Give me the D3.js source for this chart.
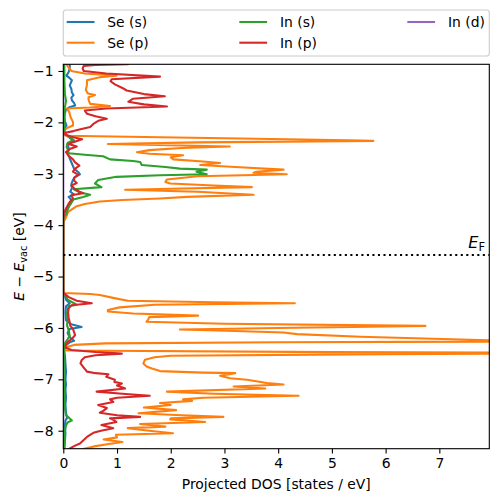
<!DOCTYPE html>
<html><head><meta charset="utf-8">
<script src="https://cdn.jsdelivr.net/npm/d3@7"></script>
<style>body{margin:0;background:#fff;} svg{display:block;font-family:"DejaVu Sans",sans-serif;}</style>
</head><body><svg id="chart" width="498" height="502"></svg>
<script>
// ---- data: [energy (eV), projected DOS (states/eV)] ----
const seriesNames = ["Se (s)", "Se (p)", "In (s)", "In (p)", "In (d)"];
const seriesColors = ["#1f77b4", "#ff7f0e", "#2ca02c", "#d62728", "#9467bd"];

const seS = [[-0.85,0.12],[-0.95,0.12],[-1.02,0.10],[-1.09,0.06],[-1.14,0.12],[-1.18,0.16],[-1.23,0.14],[-1.28,0.12],[-1.35,0.15],[-1.42,0.16],[-1.47,0.19],[-1.52,0.15],[-1.57,0.16],[-1.62,0.20],[-1.67,0.22],[-1.71,0.10],[-1.75,0.05],[-1.82,0.03],[-1.90,0.02],[-1.98,0.03],[-2.06,0.06],[-2.12,0.02],[-2.22,0.02],[-2.30,0.12],[-2.36,0.20],[-2.42,0.08],[-2.50,0.10],[-2.60,0.08],[-2.70,0.12],[-2.80,0.16],[-2.90,0.20],[-2.97,0.28],[-3.01,0.31],[-3.06,0.22],[-3.12,0.18],[-3.20,0.15],[-3.28,0.16],[-3.35,0.13],[-3.40,0.20],[-3.45,0.10],[-3.52,0.16],[-3.58,0.14],[-3.65,0.07],[-3.72,0.04],[-3.80,0.01],[-3.90,0],[-5.30,0],[-5.33,0.02],[-5.45,0.05],[-5.52,0.12],[-5.58,0.05],[-5.70,0.04],[-5.85,0.05],[-5.93,0.15],[-5.98,0.34],[-6.02,0.12],[-6.10,0.08],[-6.18,0.12],[-6.25,0.20],[-6.28,0.12],[-6.35,0.03],[-6.45,0.02],[-6.55,0.03],[-6.70,0.04],[-6.85,0.05],[-7.00,0.04],[-7.10,0.05],[-7.20,0.04],[-7.35,0.05],[-7.50,0.04],[-7.65,0.05],[-7.75,0.07],[-7.80,0.04],[-7.90,0.03],[-8.05,0.04],[-8.20,0.03],[-8.40,0.02]];

const seP = [[-0.85,0.05],[-0.87,0.06],[-0.92,0.09],[-1.00,0.15],[-1.05,0.40],[-1.09,0.99],[-1.12,0.68],[-1.18,0.44],[-1.27,0.44],[-1.37,0.42],[-1.44,0.46],[-1.47,0.59],[-1.51,0.47],[-1.56,0.47],[-1.64,0.50],[-1.68,0.87],[-1.71,0.50],[-1.73,0.07],[-1.80,0.11],[-1.91,0.14],[-1.99,0.18],[-2.06,0.18],[-2.11,0.07],[-2.15,0.03],[-2.21,0.01],[-2.26,0.05],[-2.29,1.8],[-2.32,3.6],[-2.35,5.3],[-2.36,5.77],[-2.39,2.5],[-2.42,0.83],[-2.45,2.2],[-2.47,3.10],[-2.50,2.2],[-2.54,1.6],[-2.58,1.37],[-2.61,1.6],[-2.64,2.23],[-2.68,2.0],[-2.72,2.05],[-2.76,2.6],[-2.79,2.92],[-2.83,2.55],[-2.87,3.2],[-2.92,4.10],[-2.96,3.6],[-2.98,3.54],[-3.01,4.16],[-3.05,2.5],[-3.11,1.93],[-3.16,1.9],[-3.19,1.99],[-3.23,2.8],[-3.26,3.51],[-3.29,2.0],[-3.31,1.15],[-3.35,2.5],[-3.41,3.54],[-3.45,2.3],[-3.48,1.80],[-3.51,1.1],[-3.54,0.68],[-3.59,0.40],[-3.63,0.25],[-3.74,0.09],[-3.85,0.05],[-3.95,0],[-5.30,0],[-5.32,0.02],[-5.34,0.5],[-5.36,0.68],[-5.42,0.95],[-5.47,1.2],[-5.50,2.8],[-5.52,4.31],[-5.55,1.7],[-5.60,1.05],[-5.65,0.83],[-5.68,0.83],[-5.72,1.3],[-5.76,2.51],[-5.79,1.6],[-5.84,1.58],[-5.88,1.55],[-5.92,3.0],[-5.96,6.74],[-6.00,4.0],[-6.03,2.17],[-6.06,3.2],[-6.09,4.1],[-6.12,4.35],[-6.17,5.53],[-6.24,7.91],[-6.26,9.5],[-6.28,4.0],[-6.30,0.78],[-6.33,0.2],[-6.38,0.03],[-6.44,0.05],[-6.47,5.0],[-6.49,11.0],[-6.51,6.0],[-6.54,2.0],[-6.57,1.7],[-6.62,1.52],[-6.69,1.49],[-6.75,1.55],[-6.79,1.65],[-6.84,1.80],[-6.87,2.6],[-6.88,3.20],[-6.93,2.92],[-6.98,3.1],[-7.01,3.42],[-7.07,3.79],[-7.10,4.10],[-7.14,3.17],[-7.18,3.76],[-7.24,1.93],[-7.28,2.8],[-7.32,4.38],[-7.36,2.6],[-7.39,2.23],[-7.42,2.4],[-7.46,1.80],[-7.50,2.0],[-7.55,1.5],[-7.60,2.1],[-7.66,1.40],[-7.70,2.2],[-7.73,2.98],[-7.76,2.0],[-7.78,1.99],[-7.80,2.3],[-7.83,2.64],[-7.87,1.43],[-7.92,1.9],[-7.95,1.2],[-8.00,1.6],[-8.05,2.04],[-8.08,0.98],[-8.13,1.0],[-8.17,0.75],[-8.22,1.1],[-8.26,0.85],[-8.30,0.6],[-8.36,0.35],[-8.40,0.3]];

const inS = [[-0.85,0.02],[-1.20,0.02],[-1.45,0.03],[-1.58,0.05],[-1.65,0.04],[-1.75,0.02],[-2.10,0.02],[-2.20,0.02],[-2.28,0.10],[-2.34,0.19],[-2.40,0.08],[-2.48,0.06],[-2.54,0.09],[-2.60,0.10],[-2.63,0.4],[-2.66,0.74],[-2.72,0.87],[-2.75,1.3],[-2.77,1.43],[-2.83,1.46],[-2.87,1.9],[-2.90,2.17],[-2.92,2.67],[-2.96,2.48],[-3.01,2.67],[-3.03,1.8],[-3.06,0.99],[-3.12,0.65],[-3.19,0.59],[-3.26,0.71],[-3.30,0.19],[-3.36,0.30],[-3.41,0.50],[-3.45,0.37],[-3.50,0.19],[-3.61,0.12],[-3.70,0.08],[-3.78,0.06],[-3.85,0.01],[-3.95,0],[-5.30,0],[-5.33,0.02],[-5.45,0.08],[-5.52,0.20],[-5.55,0.25],[-5.58,0.10],[-5.70,0.07],[-5.85,0.08],[-5.95,0.07],[-6.05,0.10],[-6.15,0.12],[-6.22,0.08],[-6.30,0.03],[-6.45,0.01],[-6.60,0.01],[-7.00,0.01],[-7.50,0.02],[-7.70,0.05],[-7.76,0.12],[-7.80,0.16],[-7.84,0.08],[-7.90,0.05],[-8.00,0.03],[-8.20,0.02],[-8.40,0.01]];

const inP = [[-0.84,1.0],[-0.87,1.2],[-0.885,0.6],[-0.90,0.38],[-0.95,0.36],[-1.00,0.38],[-1.05,0.8],[-1.11,1.80],[-1.16,0.90],[-1.20,0.88],[-1.26,0.96],[-1.33,1.10],[-1.38,1.18],[-1.45,1.5],[-1.49,1.89],[-1.54,1.3],[-1.60,1.21],[-1.65,1.5],[-1.69,1.93],[-1.73,0.8],[-1.77,0.40],[-1.83,0.44],[-1.88,0.6],[-1.93,0.81],[-1.97,0.65],[-2.03,0.56],[-2.09,0.50],[-2.14,0.30],[-2.17,0.19],[-2.20,0.03],[-2.23,0.02],[-2.28,0.15],[-2.33,0.35],[-2.38,0.20],[-2.42,0.10],[-2.47,0.25],[-2.52,0.12],[-2.58,0.05],[-2.65,0.10],[-2.72,0.18],[-2.78,0.22],[-2.84,0.30],[-2.90,0.22],[-2.96,0.18],[-3.02,0.28],[-3.08,0.20],[-3.13,0.20],[-3.18,0.25],[-3.23,0.15],[-3.30,0.22],[-3.35,0.30],[-3.38,0.37],[-3.42,0.15],[-3.48,0.18],[-3.55,0.12],[-3.62,0.08],[-3.70,0.04],[-3.78,0.01],[-3.90,0],[-5.30,0],[-5.33,0.02],[-5.40,0.10],[-5.47,0.25],[-5.52,0.53],[-5.56,0.15],[-5.62,0.10],[-5.70,0.09],[-5.80,0.10],[-5.90,0.12],[-5.96,0.13],[-6.02,0.18],[-6.08,0.20],[-6.14,0.22],[-6.20,0.17],[-6.26,0.10],[-6.32,0.05],[-6.38,0.04],[-6.43,0.15],[-6.47,0.6],[-6.50,1.09],[-6.53,0.6],[-6.57,0.40],[-6.63,0.34],[-6.69,0.32],[-6.76,0.37],[-6.82,0.42],[-6.85,0.44],[-6.88,0.60],[-6.90,0.84],[-6.95,0.80],[-7.01,0.96],[-7.05,0.95],[-7.08,1.09],[-7.12,1.0],[-7.18,1.15],[-7.22,0.8],[-7.24,0.62],[-7.28,1.1],[-7.32,1.61],[-7.36,1.0],[-7.39,0.87],[-7.44,0.93],[-7.50,0.65],[-7.56,0.81],[-7.61,0.75],[-7.65,0.68],[-7.70,1.0],[-7.73,1.43],[-7.76,0.87],[-7.80,0.95],[-7.83,0.99],[-7.89,0.71],[-7.95,0.93],[-8.00,0.70],[-8.04,0.56],[-8.12,0.44],[-8.18,0.38],[-8.25,0.31],[-8.30,0.20],[-8.36,0.10],[-8.40,0.08]];

const inD = [[-0.85,0],[-8.40,0]];

const xTicks = [0, 1, 2, 3, 4, 5, 6, 7];
const yTicks = [-1, -2, -3, -4, -5, -6, -7, -8];
const fermiLevel = -4.58;
const xLimits = [0, 7.93];
const yLimits = [-8.35, -0.87];

// ---- layout ----
const svg = d3.select("#chart");
const L = 63.3, R = 489.3, T = 64.3, B = 448.7;
const x = d3.scaleLinear().domain(xLimits).range([L, R]);
const y = d3.scaleLinear().domain(yLimits).range([B, T]);
const FS = 13.9;

svg.append("defs").append("clipPath").attr("id", "clip")
  .append("rect").attr("x", L).attr("y", T).attr("width", R - L).attr("height", B - T);

const plot = svg.append("g").attr("clip-path", "url(#clip)");
const line = d3.line().x(d => x(d[1])).y(d => y(d[0]));
const allSeries = [seS, seP, inS, inP, inD];
const drawOrder = [4, 0, 1, 2, 3];
drawOrder.forEach(i => {
  plot.append("path").datum(allSeries[i])
    .attr("d", line).attr("fill", "none")
    .attr("stroke", seriesColors[i]).attr("stroke-width", 2.08)
    .attr("stroke-linejoin", "round");
});

// Fermi level
plot.append("line").attr("x1", L).attr("x2", R).attr("y1", y(fermiLevel)).attr("y2", y(fermiLevel))
  .attr("stroke", "#000").attr("stroke-width", 2.08).attr("stroke-dasharray", "2.08,3.44");

const ef = svg.append("text").attr("x", 485).attr("y", y(fermiLevel) - 6.5)
  .attr("text-anchor", "end").attr("font-size", 16).attr("fill", "#000");
ef.append("tspan").attr("font-style", "italic").text("E");
ef.append("tspan").attr("font-size", 11.5).attr("dy", 3).text("F");

// axes
const xAxis = svg.append("g").attr("transform", `translate(0,${B})`)
  .call(d3.axisBottom(x).tickValues(xTicks).tickFormat(d3.format("d")).tickSize(4.86).tickPadding(4.86));
const yAxis = svg.append("g").attr("transform", `translate(${L},0)`)
  .call(d3.axisLeft(y).tickValues(yTicks).tickFormat(d3.format("d")).tickSize(4.86).tickPadding(4.86));
[xAxis, yAxis].forEach(a => {
  a.select(".domain").remove();
  a.selectAll(".tick line").attr("stroke", "#000").attr("stroke-width", 1.1);
  a.selectAll(".tick text").attr("font-size", FS).attr("fill", "#000").attr("font-family", "DejaVu Sans");
});

svg.append("rect").attr("x", L).attr("y", T).attr("width", R - L).attr("height", B - T)
  .attr("fill", "none").attr("stroke", "#000").attr("stroke-width", 1.1);

svg.append("text").attr("x", (L + R) / 2).attr("y", 488.5).attr("text-anchor", "middle")
  .attr("font-size", FS).attr("fill", "#000").text("Projected DOS [states / eV]");

const yl = svg.append("text").attr("transform", `translate(24,${(T + B) / 2}) rotate(-90)`)
  .attr("text-anchor", "middle").attr("font-size", FS).attr("fill", "#000");
yl.append("tspan").attr("font-style", "italic").text("E");
yl.append("tspan").text(" \u2212 ");
yl.append("tspan").attr("font-style", "italic").text("E");
yl.append("tspan").attr("font-size", 9.7).attr("dy", 2.6).text("vac");
yl.append("tspan").attr("dy", -2.6).text(" [eV]");

// legend
const lg = svg.append("g");
lg.append("rect").attr("x", L).attr("y", 10).attr("width", R - L).attr("height", 46)
  .attr("rx", 2.8).attr("fill", "#fff").attr("fill-opacity", 0.8)
  .attr("stroke", "#cccccc").attr("stroke-width", 1.1);
const colX = [66.7, 239.3, 407.3];
const rowY = [22, 42.7];
const legendPos = [[0, 0], [0, 1], [1, 0], [1, 1], [2, 0]];
seriesNames.forEach((n, i) => {
  const [c, r] = legendPos[i];
  lg.append("line").attr("x1", colX[c]).attr("x2", colX[c] + 27.8)
    .attr("y1", rowY[r]).attr("y2", rowY[r])
    .attr("stroke", seriesColors[i]).attr("stroke-width", 2.08);
  lg.append("text").attr("x", colX[c] + 40.6).attr("y", rowY[r] + 5)
    .attr("font-size", FS).attr("fill", "#000").text(n);
});
</script></body></html>
